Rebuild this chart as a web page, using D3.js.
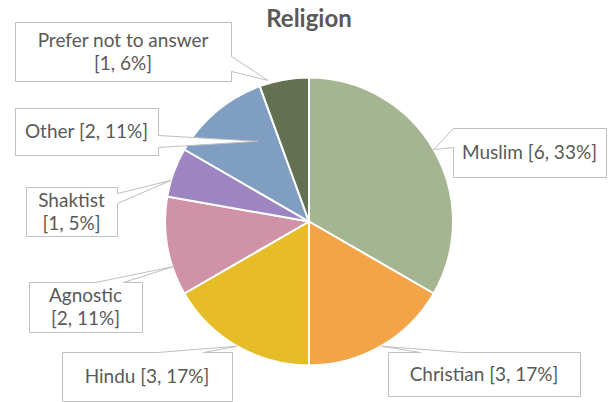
<!DOCTYPE html>
<html>
<head>
<meta charset="utf-8">
<script src="https://cdn.jsdelivr.net/npm/d3@7"></script>
<style>
  html, body { margin: 0; padding: 0; background: #fff; }
  svg { display: block; }
</style>
</head>
<body>
<svg id="chart" width="608" height="402"></svg>
<script>
// Survey answers: religion of respondents
const categories = ["Muslim", "Christian", "Hindu", "Agnostic", "Shaktist", "Other", "Prefer not to answer"];
const counts = [6, 3, 3, 2, 1, 2, 1];
const percents = [33, 17, 17, 11, 5, 11, 6];
const sliceColors = ["#A5B592", "#F3A447", "#E7BC29", "#D092A7", "#9C85C0", "#809EC2", "#637052"];
const chartTitle = "Religion";

// Callout layout: box rectangle, which edge the pointer leaves from,
// the two base points along that edge, and where on the slice it points
// (fraction through the slice's angle, fraction of the radius).
const callouts = [
  { box: [453, 128, 606, 177], edge: "left",  base: [128, 147], at: [0.50, 1.00], wrap: false },
  { box: [388, 352, 580, 396], edge: "top",   base: [420, 462], at: [0.50, 1.00], wrap: false },
  { box: [62, 352, 232, 401],  edge: "top",   base: [157, 203], at: [0.50, 1.00], wrap: false },
  { box: [29, 282, 142, 332],  edge: "top",   base: [95, 123],  at: [0.29, 0.99], wrap: true },
  { box: [26, 187, 117, 236],  edge: "right", base: [193, 203], at: [0.33, 1.00], wrap: true },
  { box: [15, 108, 158, 155],  edge: "right", base: [135, 147], at: [0.69, 0.66], wrap: false },
  { box: [15, 22, 231, 81],    edge: "right", base: [56, 71],   at: [0.19, 1.02], wrap: true }
];

const W = 608, H = 402;
const cx = 309, cy = 221.5, R = 144;
const textColor = "#595959";
const font = "Lato, 'DejaVu Sans', sans-serif";

const svg = d3.select("#chart");
svg.append("rect").attr("width", W).attr("height", H).attr("fill", "#fff");

// Title
svg.append("text")
  .attr("x", cx).attr("y", 27)
  .attr("text-anchor", "middle")
  .attr("font-family", font)
  .attr("font-weight", "bold")
  .attr("font-size", 24)
  .attr("fill", textColor)
  .text(chartTitle);

const rows = categories.map((c, i) => ({ name: c, count: counts[i], pct: percents[i], color: sliceColors[i] }));

const pie = d3.pie().value(d => d.count).sort(null);
const arcs = pie(rows);
const arc = d3.arc().innerRadius(0).outerRadius(R);

const g = svg.append("g").attr("transform", `translate(${cx},${cy})`);
g.selectAll("path.slice")
  .data(arcs)
  .join("path")
  .attr("class", "slice")
  .attr("d", arc)
  .attr("fill", d => d.data.color)
  .attr("stroke", "#fff")
  .attr("stroke-width", 2)
  .attr("stroke-linejoin", "round");

// Point on a slice, from a fraction of its sweep and of the radius
function slicePoint(a, t, k) {
  const ang = a.startAngle + t * (a.endAngle - a.startAngle);
  return [cx + k * R * Math.sin(ang), cy - k * R * Math.cos(ang)];
}

// Box outline with a pointer, traced clockwise as a single path
function calloutPath(box, edge, base, tip) {
  const [x0, y0, x1, y1] = box.map(v => Math.round(v) + 0.5);
  const b = base.map(v => Math.round(v) + 0.5);
  const lo = Math.min(b[0], b[1]), hi = Math.max(b[0], b[1]);
  const p = d3.path();
  p.moveTo(x0, y0);
  if (edge === "top") { p.lineTo(lo, y0); p.lineTo(tip[0], tip[1]); p.lineTo(hi, y0); }
  p.lineTo(x1, y0);
  if (edge === "right") { p.lineTo(x1, lo); p.lineTo(tip[0], tip[1]); p.lineTo(x1, hi); }
  p.lineTo(x1, y1);
  if (edge === "bottom") { p.lineTo(hi, y1); p.lineTo(tip[0], tip[1]); p.lineTo(lo, y1); }
  p.lineTo(x0, y1);
  if (edge === "left") { p.lineTo(x0, hi); p.lineTo(tip[0], tip[1]); p.lineTo(x0, lo); }
  p.closePath();
  return p.toString();
}

const labels = svg.append("g");
arcs.forEach((a, i) => {
  const c = callouts[i];
  const tip = slicePoint(a, c.at[0], c.at[1]);
  labels.append("path")
    .attr("d", calloutPath(c.box, c.edge, c.base, tip))
    .attr("fill", "#fff")
    .attr("stroke", "#BFBFBF")
    .attr("stroke-width", 1)
    .attr("stroke-linejoin", "miter");

  const d = a.data;
  const valueText = `[${d.count}, ${d.pct}%]`;
  const lines = c.wrap ? [d.name, valueText] : [`${d.name} ${valueText}`];
  const mx = (c.box[0] + c.box[2]) / 2;
  const my = (c.box[1] + c.box[3]) / 2;
  const lh = 23;
  const t = labels.append("text")
    .attr("text-anchor", "middle")
    .attr("font-family", font)
    .attr("font-size", 19)
    .attr("fill", textColor);
  lines.forEach((ln, j) => {
    t.append("tspan")
      .attr("x", mx)
      .attr("y", my + (j - (lines.length - 1) / 2) * lh + 6.5)
      .text(ln);
  });
});
</script>
</body>
</html>
